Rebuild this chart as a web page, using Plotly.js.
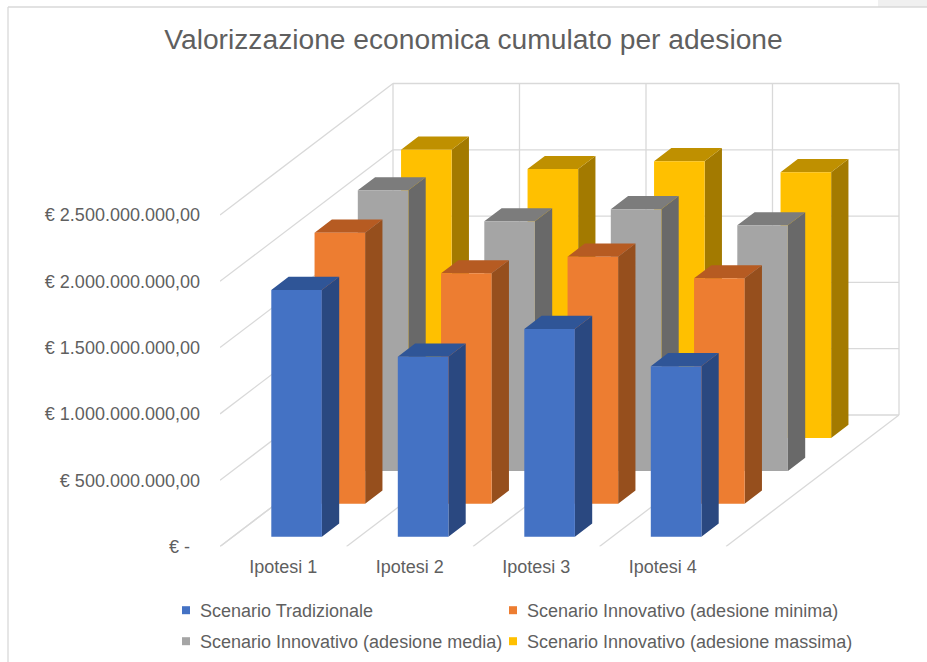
<!DOCTYPE html>
<html>
<head>
<meta charset="utf-8">
<script src="https://cdn.plot.ly/plotly-3.0.1.min.js"></script>
<style>
html,body{margin:0;padding:0;background:#fff}
.legendpoints{transform:translateX(6px)}
</style>
</head>
<body>
<div id="chart" style="width:927px;height:662px"></div>
<script>
// ---- data ----
const categories = ["Ipotesi 1", "Ipotesi 2", "Ipotesi 3", "Ipotesi 4"];
const tradizionale = [1.860e9, 1.357e9, 1.566e9, 1.285e9];
const innovativoMinima = [2.044e9, 1.738e9, 1.863e9, 1.700e9];
const innovativoMedia = [2.116e9, 1.882e9, 1.973e9, 1.852e9];
const innovativoMassima = [2.174e9, 2.028e9, 2.088e9, 2.005e9];
const seriesNames = [
  "Scenario Tradizionale",
  "Scenario Innovativo (adesione minima)",
  "Scenario Innovativo (adesione media)",
  "Scenario Innovativo (adesione massima)"
];
const tickValues = [0, 5e8, 1e9, 1.5e9, 2e9, 2.5e9];
const tickLabels = ["€ -\u00A0\u00A0", "€ 500.000.000,00", "€ 1.000.000.000,00", "€ 1.500.000.000,00", "€ 2.000.000.000,00", "€ 2.500.000.000,00"];

// ---- styles ----
const frontColors = ["#4472C4", "#ED7D31", "#A5A5A5", "#FFC000"];
const sideColors = ["#2A4880", "#964F1D", "#696969", "#A37A00"];
const topColors = ["#2F5597", "#B65B22", "#7C7C7C", "#BF9000"];
const gridColor = "#D9D9D9";
const textColor = "#5F5F5F";
const font = "Liberation Sans, Arial, sans-serif";

// ---- oblique projection of the 3D chart box onto the axes ----
const W = 927, H = 662;
const plotL = 220, plotR = 902, plotT = 80, plotB = 546.5;
const pxPerCat = 126.5, pxPerEuro = 66.3 / 5e8;
const depthX = 173 / pxPerCat / 4;   // axis shift per series row (x units)
const depthY = 131.5 / pxPerEuro / 4; // axis shift per series row (euro units)
const project = (c, d, v) => [c + d * depthX, v + d * depthY];

function polygons(faceFn, values, row) {
  const xs = [], ys = [];
  values.forEach((v, i) => {
    faceFn(i + 0.303, i + 0.703, row + 0.3, row + 0.7, v).forEach(p => {
      const q = project(p[0], p[1], p[2]);
      xs.push(q[0]); ys.push(q[1]);
    });
    xs.push(null); ys.push(null);
  });
  return {x: xs, y: ys};
}
const frontFace = (c0, c1, d0, d1, v) => [[c0,d0,0],[c1,d0,0],[c1,d0,v],[c0,d0,v],[c0,d0,0]];
const sideFace  = (c0, c1, d0, d1, v) => [[c1,d0,0],[c1,d1,0],[c1,d1,v],[c1,d0,v],[c1,d0,0]];
const topFace   = (c0, c1, d0, d1, v) => [[c0,d0,v],[c1,d0,v],[c1,d1,v],[c0,d1,v],[c0,d0,v]];

const traces = [];
// walls and floor
function gridTrace(segments) {
  const xs = [], ys = [];
  segments.forEach(s => {
    const a = project(s[0], s[1], s[2]), b = project(s[3], s[4], s[5]);
    xs.push(a[0], b[0], null); ys.push(a[1], b[1], null);
  });
  return {x: xs, y: ys, type: "scatter", mode: "lines", line: {color: gridColor, width: 1.3},
          hoverinfo: "skip", showlegend: false};
}
const nCat = categories.length, nRow = seriesNames.length;
const segs = [];
tickValues.forEach(v => {
  segs.push([0, nRow, v, nCat, nRow, v]);   // back wall
  segs.push([0, 0, v, 0, nRow, v]);         // side wall
});
for (let c = 0; c <= nCat; c++) {
  segs.push([c, nRow, 0, c, nRow, tickValues[tickValues.length - 1]]); // back wall verticals
  segs.push([c, 0, 0, c, nRow, 0]);                                    // floor lines
}
traces.push(gridTrace(segs));

// bars, painted from the back row to the front row
const allSeries = [tradizionale, innovativoMinima, innovativoMedia, innovativoMassima];
for (let r = nRow - 1; r >= 0; r--) {
  [[sideFace, sideColors], [topFace, topColors], [frontFace, frontColors]].forEach(f => {
    const p = polygons(f[0], allSeries[r], r);
    traces.push({x: p.x, y: p.y, type: "scatter", mode: "lines", fill: "toself",
      fillcolor: f[1][r], line: {width: 0, color: f[1][r]}, hoverinfo: "skip", showlegend: false,
      connectgaps: false});
  });
}
// legend entries
const legendAnchors = [[160, 610.5], [487, 610.5], [160, 641.5], [487, 641.5]];
const legendKeys = ["legend", "legend2", "legend3", "legend4"];
seriesNames.forEach((n, r) => {
  traces.push({x: [null], y: [null], type: "scatter", mode: "markers", name: n, legend: legendKeys[r],
    marker: {symbol: "square", size: 8, color: frontColors[r]}, showlegend: true});
});

const layout = {
  width: W, height: H,
  paper_bgcolor: "#FFFFFF", plot_bgcolor: "rgba(0,0,0,0)",
  margin: {l: 0, r: 0, t: 0, b: 0, pad: 0},
  font: {family: font, size: 18, color: textColor},
  title: {text: "Valorizzazione economica cumulato per adesione",
    font: {family: font, size: 28.2, color: textColor},
    x: 473.5 / W, xanchor: "center", xref: "paper", y: 1 - 39 / H, yanchor: "middle", yref: "paper"},
  xaxis: {domain: [plotL / W, plotR / W], range: [0, (plotR - plotL) / pxPerCat], tickmode: "array",
    tickvals: categories.map((c, i) => i + 0.5), ticktext: categories,
    showgrid: false, zeroline: false, showline: false, ticks: "", ticklabelstandoff: 7,
    tickfont: {family: font, size: 18, color: textColor}},
  yaxis: {domain: [1 - plotB / H, 1 - plotT / H], range: [0, (plotB - plotT) / pxPerEuro], tickmode: "array",
    tickvals: tickValues, ticktext: tickLabels,
    showgrid: false, zeroline: false, showline: false, ticks: "", ticklabelstandoff: 19,
    tickfont: {family: font, size: 18, color: textColor}},
  shapes: [
    {type: "rect", xref: "paper", yref: "paper", x0: 878 / W, x1: 1, y0: 1, y1: 1 - 7 / H,
     fillcolor: "#F0F0F0", line: {width: 0}},
    {type: "line", xref: "paper", yref: "paper", x0: 8 / W, x1: 1, y0: 1 - 7 / H, y1: 1 - 7 / H,
     line: {color: gridColor, width: 1.3}},
    {type: "line", xref: "paper", yref: "paper", x0: 8 / W, x1: 8 / W, y0: 1 - 7 / H, y1: 0,
     line: {color: gridColor, width: 1.3}}
  ]
};
legendKeys.forEach((k, r) => {
  layout[k] = {xref: "paper", yref: "paper", x: legendAnchors[r][0] / W, y: 1 - legendAnchors[r][1] / H,
    xanchor: "left", yanchor: "middle", bgcolor: "rgba(0,0,0,0)", borderwidth: 0,
    font: {family: font, size: 18, color: textColor}};
});

Plotly.newPlot("chart", traces, layout, {displayModeBar: false, responsive: false});
</script>
</body>
</html>
